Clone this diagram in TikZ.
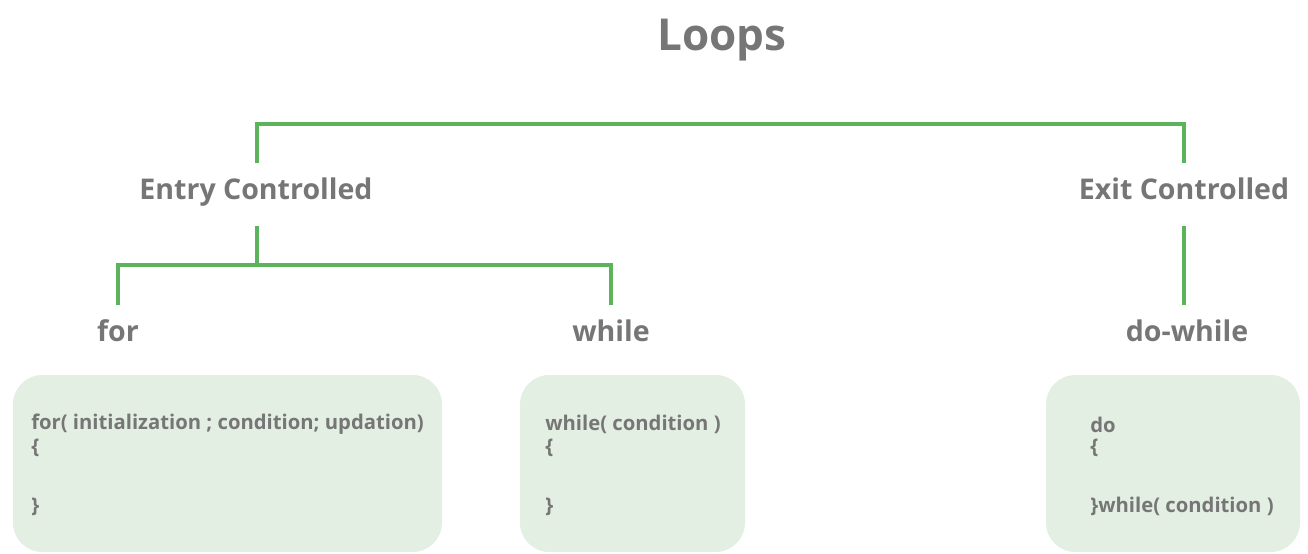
\documentclass[tikz,border=0pt]{standalone}
\usepackage{fontspec}
\setmainfont{Open Sans}
\definecolor{txtgray}{HTML}{767676}
\definecolor{lgreen}{HTML}{5DB35B}
\definecolor{boxfill}{HTML}{E4EFE3}
\begin{document}
\begin{tikzpicture}[x=0.75pt,y=-0.75pt,
  title/.style={text=txtgray,font=\fontsize{33}{38}\selectfont\bfseries,inner sep=0pt},
  lbl/.style={text=txtgray,font=\fontsize{21.4}{25}\selectfont\bfseries,inner sep=0pt,
    text height=0.72em,text depth=0pt},
  code/.style={text=txtgray,font=\fontsize{15.2}{18}\selectfont\bfseries,inner sep=0pt,anchor=west},
  conn/.style={draw=lgreen,line width=2.3pt},
  codebox/.style={fill=boxfill,rounded corners=22pt,draw=none}]
\useasboundingbox (0,0) rectangle (1308,553);
\fill[white] (0,0) rectangle (1308,553);
% title
\node[title] (loops) at (722,40) {Loops};
% level 1 (vertical extent 163..226)
\node[lbl,minimum height=47.25pt] (entry) at (256,194.5) {Entry Controlled};
\node[lbl,minimum height=47.25pt] (exit) at (1184,194.5) {Exit Controlled};
% level 2 (top at 305)
\node[lbl,minimum height=48pt] (for) at (118,337) {for};
\node[lbl,minimum height=48pt] (while) at (611,337) {while};
\node[lbl,minimum height=48pt] (dowhile) at (1187,337) {do-while};
\coordinate (top) at (720,124);
\coordinate (mid) at (364,265);
% connectors
\draw[conn] ([xshift=0.75pt]entry.north) |- (top) -| (exit.north);
\draw[conn] ([xshift=0.75pt]entry.south) -- ([xshift=0.75pt]entry.south |- mid);
\draw[conn] (for.north) |- (mid) -| (while.north);
\draw[conn] (exit.south) -- (exit.south |- dowhile.north);
% boxes
\path[codebox] (13,375) rectangle (442,552);
\path[codebox] (520,375) rectangle (745,552);
\path[codebox] (1046,375) rectangle (1300,552);
% code
\node[code] (f1) at (31,424.5) {for( initialization ; condition; updation)};
\node[code] (f2) at (31,447.5) {\{};
\node[code] (f3) at (31,506.5) {\}};
\node[code] (w1) at (545,424.5) {while( condition )};
\node[code] (w2) at (545,447.5) {\{};
\node[code] (w3) at (545,506.5) {\}};
\node[code] (d1) at (1090,424.5) {do};
\node[code] (d2) at (1090,447.5) {\{};
\node[code] (d3) at (1090,506.5) {\}while( condition )};
\end{tikzpicture}
\end{document}
